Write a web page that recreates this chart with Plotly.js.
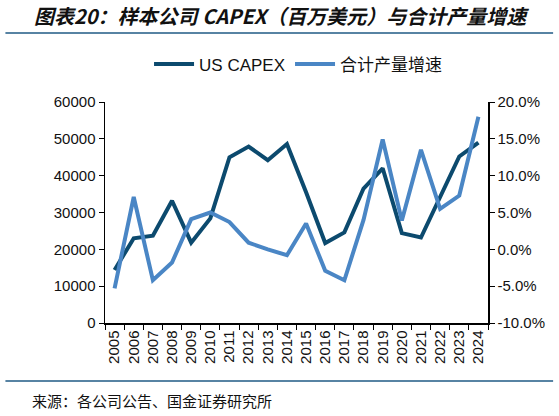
<!DOCTYPE html>
<html>
<head>
<meta charset="utf-8">
<script src="https://cdn.plot.ly/plotly-3.0.1.min.js"></script>
<style>
  html, body { margin: 0; padding: 0; background: #fff; }
  #chart { width: 559px; height: 416px; }
</style>
</head>
<body>
<div id="chart"></div>
<script>
// years on the x axis
var years = ['2005', '2006', '2007', '2008', '2009', '2010', '2011', '2012', '2013', '2014',
             '2015', '2016', '2017', '2018', '2019', '2020', '2021', '2022', '2023', '2024'];

// US CAPEX, million USD (left axis)
var usCapex = [14400, 23000, 23700, 33200, 21800, 28400, 45000, 47900, 44200, 48600,
               35500, 21700, 24600, 36500, 42000, 24400, 23200, 34300, 45200, 49000];

// combined output growth, % (right axis)
var outputGrowth = [-5.3, 7.1, -4.2, -1.8, 4.1, 5.0, 3.7, 0.9, 0.0, -0.8,
                    3.5, -2.9, -4.2, 4.0, 14.9, 3.9, 13.5, 5.5, 7.3, 18.0];

var leftTicks = [0, 10000, 20000, 30000, 40000, 50000, 60000];
var rightTicks = [-10, -5, 0, 5, 10, 15, 20];

var darkBlue = '#0c4a6e';
var lightBlue = '#4a86c5';
var numFont = 'Liberation Sans, Arial, sans-serif';
var cjkFont = 'Noto Sans CJK SC, sans-serif';

var traces = [
  {
    x: years,
    y: usCapex,
    name: 'US CAPEX',
    type: 'scatter',
    mode: 'lines',
    line: { color: darkBlue, width: 4 },
    yaxis: 'y'
  },
  {
    x: years,
    y: outputGrowth,
    name: '合计产量增速',
    type: 'scatter',
    mode: 'lines',
    line: { color: lightBlue, width: 4 },
    yaxis: 'y2'
  }
];

var layout = {
  width: 559,
  height: 416,
  margin: { l: 105, r: 71, t: 102, b: 93 },
  paper_bgcolor: '#fff',
  plot_bgcolor: '#fff',
  showlegend: true,
  legend: {
    orientation: 'h',
    x: 0.115, xanchor: 'left',
    y: 1.17, yanchor: 'middle',
    font: { family: numFont + ', ' + cjkFont, size: 17, color: '#111' },
    itemwidth: 40,
    tracegroupgap: 0
  },
  xaxis: {
    type: 'category',
    range: [-0.5, 19.5],
    tickangle: -90,
    showline: true, linecolor: '#000', linewidth: 1.5,
    ticks: 'outside', tickson: 'boundaries', ticklen: 5, tickcolor: '#000',
    showgrid: false, zeroline: false,
    tickfont: { family: numFont, size: 15, color: '#111' },
    fixedrange: true
  },
  yaxis: {
    range: [0, 60000],
    tickvals: leftTicks,
    ticktext: leftTicks.map(String),
    showline: true, linecolor: '#000', linewidth: 1.5,
    ticks: 'outside', ticklen: 5, tickcolor: '#000',
    showgrid: false, zeroline: false,
    tickfont: { family: numFont, size: 15, color: '#111' }
  },
  yaxis2: {
    overlaying: 'y',
    side: 'right',
    range: [-10, 20],
    tickvals: rightTicks,
    ticktext: rightTicks.map(function (v) { return v.toFixed(1) + '%'; }),
    showline: true, linecolor: '#000', linewidth: 1.5,
    ticks: 'outside', ticklen: 5, tickcolor: '#000',
    showgrid: false, zeroline: false,
    tickfont: { family: numFont, size: 15, color: '#111' }
  },
  shapes: [
    // rule under the title
    { type: 'line', xref: 'paper', yref: 'paper',
      x0: -0.26, x1: 1.17, y0: 1.312, y1: 1.312,
      line: { color: '#1f5a85', width: 1.5 } },
    // rule above the source note
    { type: 'line', xref: 'paper', yref: 'paper',
      x0: -0.26, x1: 1.17, y0: -0.262, y1: -0.262,
      line: { color: '#1f5a85', width: 1.5 } }
  ],
  annotations: [
    { text: '<b><i>图表20：样本公司 CAPEX（百万美元）与合计产量增速</i></b>',
      xref: 'paper', yref: 'paper', x: -0.19, y: 1.39,
      xanchor: 'left', yanchor: 'middle', showarrow: false,
      font: { family: cjkFont, size: 20, color: '#111' } },
    { text: '来源：各公司公告、国金证券研究所',
      xref: 'paper', yref: 'paper', x: -0.195, y: -0.35,
      xanchor: 'left', yanchor: 'middle', showarrow: false,
      font: { family: cjkFont, size: 15, color: '#111' } }
  ]
};

Plotly.newPlot('chart', traces, layout, { displayModeBar: false, staticPlot: true });
</script>
</body>
</html>
